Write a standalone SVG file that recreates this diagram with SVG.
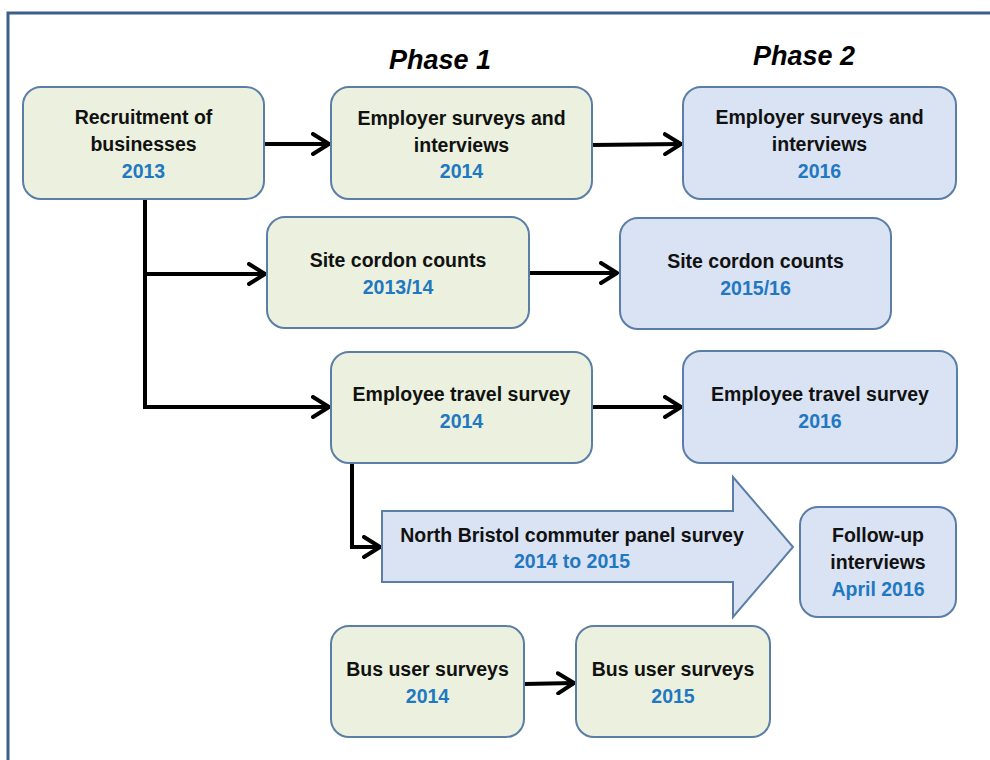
<svg xmlns="http://www.w3.org/2000/svg" width="990" height="760" viewBox="0 0 990 760">
  <style>
    .box { stroke: #5a7ea6; stroke-width: 2; }
    .p1 { fill: #ebf1de; }
    .p2 { fill: #dae3f3; }
    .t { font-family: "Liberation Sans", Arial, sans-serif; font-weight: bold; font-size: 19.5px; fill: #111; text-anchor: middle; }
    .y { fill: #1f78c1; }
    .phase { font-family: "Liberation Sans", Arial, sans-serif; font-weight: bold; font-style: italic; font-size: 27px; fill: #000; text-anchor: middle; }
    .conn { fill: none; stroke: #000; stroke-width: 4; marker-end: url(#chev); }
  </style>
  <defs>
    <marker id="chev" viewBox="0 0 10 12" refX="9" refY="6" markerWidth="5" markerHeight="6" orient="auto" markerUnits="strokeWidth">
      <path d="M1,1 L9,6 L1,11" fill="none" stroke="#000" stroke-width="2" stroke-linecap="round" stroke-linejoin="round"/>
    </marker>
  </defs>

  <!-- outer frame -->
  <rect x="0" y="0" width="990" height="760" fill="#fff"/>
  <path d="M8,760 L8,13 L990,13" fill="none" stroke="#3b5e8c" stroke-width="3"/>

  <!-- phase headings -->
  <text class="phase" x="440" y="69">Phase 1</text>
  <text class="phase" x="804" y="65">Phase 2</text>

  <!-- connectors -->
  <g id="connectors">
    <line class="conn" x1="264" y1="144" x2="329" y2="144"/>
    <line class="conn" x1="592" y1="145" x2="681" y2="144"/>
    <polyline points="145,199 145,407 329,407" fill="none" stroke="#000" stroke-width="4" marker-end="url(#chev)"/>
    <line class="conn" x1="145" y1="274" x2="265" y2="274"/>
    <line class="conn" x1="529" y1="273" x2="617" y2="273"/>
    <line class="conn" x1="592" y1="407" x2="681" y2="407"/>
    <polyline points="352,463 352,547 380,547" fill="none" stroke="#000" stroke-width="4" marker-end="url(#chev)"/>
    <line class="conn" x1="524" y1="684" x2="574" y2="683"/>
  </g>

  <g id="recruitment">
    <rect class="box p1" x="23" y="87" width="241" height="112" rx="18"/>
    <text class="t" x="143.5" y="124">Recruitment of</text>
    <text class="t" x="143.5" y="151">businesses</text>
    <text class="t y" x="143.5" y="178">2013</text>
  </g>

  <g id="employer-2014">
    <rect class="box p1" x="331" y="87" width="261" height="112" rx="18"/>
    <text class="t" x="461.5" y="125">Employer surveys and</text>
    <text class="t" x="461.5" y="152">interviews</text>
    <text class="t y" x="461.5" y="178">2014</text>
  </g>

  <g id="employer-2016">
    <rect class="box p2" x="683" y="87" width="273" height="112" rx="18"/>
    <text class="t" x="819.5" y="124">Employer surveys and</text>
    <text class="t" x="819.5" y="151">interviews</text>
    <text class="t y" x="819.5" y="178">2016</text>
  </g>

  <g id="cordon-2013-14">
    <rect class="box p1" x="267" y="217" width="262" height="111" rx="18"/>
    <text class="t" x="398" y="267">Site cordon counts</text>
    <text class="t y" x="398" y="294">2013/14</text>
  </g>

  <g id="cordon-2015-16">
    <rect class="box p2" x="620" y="218" width="271" height="111" rx="18"/>
    <text class="t" x="755.5" y="268">Site cordon counts</text>
    <text class="t y" x="755.5" y="295">2015/16</text>
  </g>

  <g id="travel-2014">
    <rect class="box p1" x="331" y="352" width="261" height="111" rx="18"/>
    <text class="t" x="461.5" y="401">Employee travel survey</text>
    <text class="t y" x="461.5" y="428">2014</text>
  </g>

  <g id="travel-2016">
    <rect class="box p2" x="683" y="351" width="274" height="112" rx="18"/>
    <text class="t" x="820" y="401">Employee travel survey</text>
    <text class="t y" x="820" y="428">2016</text>
  </g>

  <g id="commuter-panel">
    <polygon class="box p2" points="382,511 733,511 733,477 793,547 733,617 733,582 382,582"/>
    <text class="t" x="572" y="542">North Bristol commuter panel survey</text>
    <text class="t y" x="572" y="568">2014 to 2015</text>
  </g>

  <g id="follow-up">
    <rect class="box p2" x="800" y="507" width="156" height="110" rx="18"/>
    <text class="t" x="878" y="542">Follow-up</text>
    <text class="t" x="878" y="569">interviews</text>
    <text class="t y" x="878" y="596">April 2016</text>
  </g>

  <g id="bus-2014">
    <rect class="box p1" x="331" y="626" width="193" height="111" rx="18"/>
    <text class="t" x="427.5" y="676">Bus user surveys</text>
    <text class="t y" x="427.5" y="703">2014</text>
  </g>

  <g id="bus-2015">
    <rect class="box p1" x="576" y="626" width="194" height="111" rx="18"/>
    <text class="t" x="673" y="676">Bus user surveys</text>
    <text class="t y" x="673" y="703">2015</text>
  </g>
</svg>
